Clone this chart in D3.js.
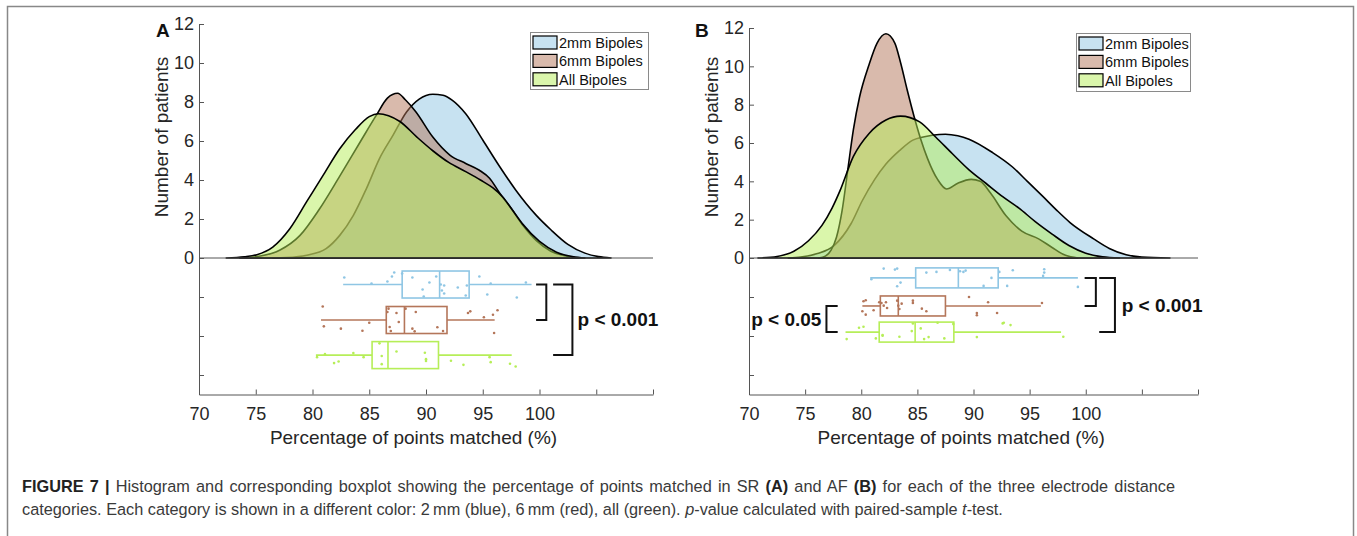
<!DOCTYPE html>
<html>
<head>
<meta charset="utf-8">
<script src="https://cdn.jsdelivr.net/npm/d3@7/dist/d3.min.js"></script>
<style>
  body { margin: 0; background: #fff; }
  text { font-family: "Liberation Sans", Arial, Helvetica, sans-serif; }
</style>
</head>
<body>
<script>
// ---- data ----
const seriesNames = ["2mm Bipoles", "6mm Bipoles", "All Bipoles"];
const xTicks = [70, 75, 80, 85, 90, 95, 100, 105, 110];
const countTicks = [0, 2, 4, 6, 8, 10, 12];

// density curves: [percentage, number of patients]
const densA_2mm = [[76.5,0],[77.7,0.02],[79.5,0.14],[81.2,0.48],[82.4,1.16],[83.6,2.19],[84.75,3.56],[85.9,5.1],[87.1,6.3],[88.3,7.5],[89.4,8.15],[90.6,8.4],[91.5,8.35],[92.3,8.1],[93.5,7.4],[95,6.05],[96.5,4.68],[97.9,3.49],[99.7,2.2],[101,1.45],[102.5,0.7],[104,0.25],[105.2,0.07],[106.3,0]];
const densA_6mm = [[73.6,0],[75.4,0.1],[77.1,0.4],[78.9,1.16],[80.6,2.5],[82.4,4.2],[84.2,5.95],[85.6,7.3],[86.6,8.2],[87.5,8.45],[88.2,8.1],[89.1,7.5],[90.6,6.2],[92.1,5.28],[93.5,4.85],[94.7,4.5],[95.6,4.09],[96.5,3.32],[97.5,2.55],[98.5,1.7],[99.7,0.9],[101,0.35],[102.5,0.08],[103.5,0]];
const densA_all = [[72.4,0],[74,0.06],[75.1,0.17],[76.5,0.56],[78,1.5],[79.5,2.9],[81,4.3],[82.4,5.6],[83.8,6.6],[85,7.25],[85.8,7.4],[86.7,7.3],[87.7,7.0],[89.2,6.2],[90.6,5.5],[92,4.9],[93.5,4.43],[94.8,4.0],[95.9,3.59],[96.8,3.1],[97.5,2.55],[98.5,1.75],[100,0.85],[101.5,0.3],[103,0.06],[104,0]];

const densB_2mm = [[73.5,0],[74.6,0.05],[76.1,0.23],[77.6,0.66],[79.1,1.8],[80.1,3.0],[81.2,4.1],[82.2,4.9],[83.4,5.6],[84.6,6.15],[86.3,6.4],[87.5,6.46],[88.6,6.38],[89.6,6.2],[91.7,5.5],[93.45,4.76],[94.8,4.0],[96.2,3.2],[97.4,2.5],[98.6,1.85],[100.7,1.0],[102.1,0.5],[103.6,0.17],[105,0.05],[107.5,0]];
const densB_6mm = [[76.2,0],[76.8,0.1],[77.3,0.4],[77.8,1.1],[78.3,2.5],[78.8,4.6],[79.3,6.7],[79.85,8.4],[80.7,10.1],[81.4,11.2],[82.2,11.7],[83,11.2],[83.5,10.2],[84.1,8.75],[84.7,7.4],[85.3,6.2],[85.9,5.2],[86.8,4.1],[87.6,3.6],[88.6,3.9],[89.8,4.1],[90.6,4.0],[91.5,3.4],[92.9,2.2],[94.3,1.4],[95.8,1.0],[97,0.55],[98.2,0.14],[99.3,0]];
const densB_all = [[70.8,0],[72.5,0.08],[74,0.35],[75.3,0.9],[76.5,1.7],[77.4,2.6],[78.1,3.5],[79.3,5.3],[80.7,6.5],[82.2,7.2],[83.5,7.4],[85.2,7.1],[86.65,6.3],[88.1,5.45],[89.6,4.6],[91.1,3.9],[92.6,3.2],[94.05,2.6],[95.5,1.9],[97,1.25],[98.5,0.65],[100,0.25],[101.5,0.06],[103,0]];

// boxplots: [lower whisker, q1, median, q3, upper whisker]
const boxA_2mm = [82.7, 87.9, 91.2, 93.8, 99.3];
const boxA_6mm = [80.75, 86.5, 88.1, 91.85, 96.05];
const boxA_all = [80.3, 85.25, 86.65, 91.1, 97.55];
const boxB_2mm = [80.8, 84.85, 88.65, 92.2, 99.3];
const boxB_6mm = [80.1, 81.7, 83.3, 87.5, 96.0];
const boxB_all = [78.6, 81.6, 84.8, 88.25, 97.8];

// patient points: [percentage, jitter (-1..1 of half box height)]
const ptsA_2mm = [[82.8,-0.52],[85.2,-0.07],[86.6,-0.22],[87.0,-0.59],[87.2,-0.89],[87.9,-0.81],[88.8,-0.52],[89.7,0.37],[89.8,0.89],[90.3,-0.15],[90.9,-0.59],[91.3,0],[91.4,0.44],[91.6,0.67],[91.6,0.07],[92.8,0.22],[93.5,0.81],[93.6,0.07],[94.7,-0.59],[95.7,-0.07],[95.4,0.74],[98.0,0.96],[98.8,-0.15]];
const ptsA_6mm = [[80.9,-1.0],[81.0,0.47],[82.5,0.64],[84.4,0.79],[85.0,0.2],[86.6,-0.59],[86.7,-0.84],[86.8,0.52],[86.9,0.81],[87.4,-0.52],[87.6,0.15],[88.2,-0.84],[88.8,0.64],[89.0,0.84],[89.1,-0.59],[91.0,0.54],[91.5,0.81],[93.7,-0.52],[93.9,-0.64],[95.1,-0.2],[95.9,-0.39],[96.3,-0.72],[96.0,0.96]];
const ptsA_all = [[80.4,0.15],[81.1,-0.07],[81.9,0.59],[82.3,0.47],[83.6,-0.15],[84.5,0.15],[85.9,-0.87],[86.1,0.07],[86.1,0.67],[87.4,-0.27],[89.9,-0.17],[90.0,0.44],[90.0,0.3],[92.2,0.42],[93.3,0.72],[95.6,0.15],[95.7,0.52],[97.4,0.64],[97.9,0.84]];
const ptsB_2mm = [[80.9,0.13],[82.0,-0.93],[83.0,-0.83],[83.2,-0.93],[83.2,0.83],[83.5,0.47],[85.8,-0.53],[86.7,-0.6],[87.9,-0.8],[88.8,-0.67],[89.1,-0.6],[89.3,-0.73],[90.9,0.8],[91.6,0],[92.3,-0.6],[93.0,0.8],[93.5,-0.77],[96.3,-0.87],[96.3,-0.53],[96.2,-0.2],[99.3,0.9]];
const ptsB_6mm = [[80.2,-0.47],[80.4,-0.57],[80.1,0.53],[80.4,0.87],[81.1,0.43],[81.6,-0.37],[81.8,-0.3],[82.0,-0.03],[82.2,-0.37],[82.3,0.2],[83.2,-0.53],[83.3,-0.03],[83.4,0.3],[83.6,-0.23],[84.6,-0.53],[84.6,-0.3],[85.4,0.27],[85.8,0.53],[89.6,-0.9],[90.3,0.7],[90.3,0.93],[91.3,-0.37],[92.1,0.7],[96.1,-0.3]];
const ptsB_all = [[78.7,0.7],[79.8,-0.43],[80.2,-0.53],[81.3,0.63],[81.9,0.37],[81.9,0.3],[83.4,0.47],[84.6,-0.87],[84.5,-0.1],[85.3,-0.37],[85.6,0.7],[86.0,0.5],[86.8,-0.93],[87.4,0.63],[88.2,-0.8],[90.3,0.5],[92.6,-0.87],[92.7,-0.93],[93.3,-0.7],[98.0,0.47]];

// ---- styles ----
const colors = ["#8fc6e4", "#b4765a", "#b6ee58"];
const fillOpacity = 0.5;
const axisColor = "#555";
const textColor = "#262626";

const W = 1357, H = 536;
const svg = d3.select("body").append("svg").attr("width", W).attr("height", H);

// outer frame of the figure
svg.append("rect")
  .attr("x", 7.5).attr("y", 6.5).attr("width", 1346).attr("height", 560)
  .attr("fill", "none").attr("stroke", "#888").attr("stroke-width", 1.5);

const panels = [
  { letter: "A", left: 199, right: 653, top: 24,
    dens: [densA_2mm, densA_6mm, densA_all], boxes: [boxA_2mm, boxA_6mm, boxA_all],
    pts: [ptsA_2mm, ptsA_6mm, ptsA_all], centers: [0.68, 1.59, 2.49], half: 13.5,
    legend: { x: 530, y: 32, w: 118, h: 57 },
    brackets: [{ a: 0, b: 1, xArm: 99.7, xBar: 100.6 }, { a: 0, b: 2, xArm: 101.2, xBar: 102.9, label: "p < 0.001", lx: 103.35, anchor: "start" }] },
  { letter: "B", left: 749, right: 1198, top: 28,
    dens: [densB_2mm, densB_6mm, densB_all], boxes: [boxB_2mm, boxB_6mm, boxB_all],
    pts: [ptsB_2mm, ptsB_6mm, ptsB_all], centers: [0.51, 1.23, 1.9], half: 10,
    legend: { x: 1076, y: 33, w: 114, h: 58 },
    brackets: [{ a: 0, b: 1, xArm: 99.9, xBar: 100.9 }, { a: 0, b: 2, xArm: 101.2, xBar: 102.6, label: "p < 0.001", lx: 103.2, anchor: "start" },
               { a: 1, b: 2, xArm: 77.9, xBar: 76.9, label: "p < 0.05", lx: 76.45, anchor: "end" }] }
];

function styleAxis(g, size) {
  g.select(".domain").attr("stroke", axisColor).attr("stroke-width", 1);
  g.selectAll(".tick line").attr("stroke", axisColor);
  g.selectAll(".tick text").attr("fill", textColor).style("font-size", size + "px")
    .style("font-family", '"Liberation Sans", Arial, sans-serif');
}

panels.forEach(p => {
  const g = svg.append("g");
  const x = d3.scaleLinear().domain([70, 110]).range([p.left, p.right]);
  const yTop = d3.scaleLinear().domain([0, 12]).range([258, p.top]);
  const yLow = d3.scaleLinear().domain([0, 3.5]).range([258, 394.5]);

  // density patches, drawn in order so later ones cover earlier outlines
  const area = d3.area().x(d => x(d[0])).y0(yTop(0)).y1(d => yTop(d[1])).curve(d3.curveMonotoneX);
  p.dens.forEach((d, i) => {
    g.append("path").datum(d).attr("d", area)
      .attr("fill", colors[i]).attr("fill-opacity", fillOpacity)
      .attr("stroke", "#000").attr("stroke-width", 1.6).attr("stroke-linejoin", "round");
  });

  // axes
  g.append("g").attr("transform", `translate(${p.left},0)`)
    .call(d3.axisLeft(yTop).tickValues(countTicks).tickSizeInner(-5).tickSizeOuter(0).tickPadding(5))
    .call(a => styleAxis(a, 18));
  g.append("g").attr("transform", `translate(${p.left},0)`)
    .call(d3.axisLeft(yLow).tickValues([1, 2, 3]).tickSizeInner(-5).tickSizeOuter(0).tickFormat(""))
    .call(a => styleAxis(a, 18));
  g.append("line").attr("x1", p.left).attr("x2", p.right).attr("y1", 258).attr("y2", 258)
    .attr("stroke", axisColor).attr("stroke-width", 1);
  g.append("g").attr("transform", `translate(0,${yLow(3.5)})`)
    .call(d3.axisBottom(x).tickValues(xTicks).tickSizeInner(-5).tickSizeOuter(0).tickPadding(13)
      .tickFormat(d => d <= 100 ? d : ""))
    .call(a => styleAxis(a, 18));

  // axis titles and panel letter
  g.append("text").attr("x", x(88.9)).attr("y", 444).attr("text-anchor", "middle")
    .attr("fill", textColor).style("font-size", "19px").text("Percentage of points matched (%)");
  g.append("text").attr("transform", `translate(${p.left - 31},137) rotate(-90)`).attr("text-anchor", "middle")
    .attr("fill", textColor).style("font-size", "19px").text("Number of patients");
  g.append("text").attr("x", p.left - (p.letter === "A" ? 43 : 54)).attr("y", 37)
    .attr("fill", "#111").style("font-size", "19px").style("font-weight", "bold").text(p.letter);

  // boxplots with points
  p.boxes.forEach((b, i) => {
    const cy = yLow(p.centers[i]);
    const c = colors[i];
    const bg = g.append("g").attr("stroke", c).attr("stroke-width", 1.6).attr("fill", "none");
    bg.append("line").attr("x1", x(b[0])).attr("x2", x(b[1])).attr("y1", cy).attr("y2", cy);
    bg.append("line").attr("x1", x(b[3])).attr("x2", x(b[4])).attr("y1", cy).attr("y2", cy);
    bg.append("rect").attr("x", x(b[1])).attr("y", cy - p.half)
      .attr("width", x(b[3]) - x(b[1])).attr("height", 2 * p.half);
    bg.append("line").attr("x1", x(b[2])).attr("x2", x(b[2])).attr("y1", cy - p.half).attr("y2", cy + p.half);
    g.selectAll(null).data(p.pts[i]).enter().append("circle")
      .attr("cx", d => x(d[0])).attr("cy", d => cy + d[1] * p.half).attr("r", 1.3)
      .attr("fill", c);
  });

  // significance brackets
  p.brackets.forEach(br => {
    const y1 = yLow(p.centers[br.a]), y2 = yLow(p.centers[br.b]);
    g.append("path")
      .attr("d", `M${x(br.xArm)},${y1}H${x(br.xBar)}V${y2}H${x(br.xArm)}`)
      .attr("fill", "none").attr("stroke", "#111").attr("stroke-width", 2);
    if (br.label) {
      g.append("text").attr("x", x(br.lx)).attr("y", (y1 + y2) / 2).attr("dy", "0.35em")
        .attr("text-anchor", br.anchor).attr("fill", "#111")
        .style("font-size", "19px").style("font-weight", "bold").text(br.label);
    }
  });

  // legend
  const L = p.legend;
  const lg = g.append("g");
  lg.append("rect").attr("x", L.x + 0.5).attr("y", L.y + 0.5).attr("width", L.w).attr("height", L.h)
    .attr("fill", "#fff").attr("stroke", "#8a8a8a").attr("stroke-width", 1);
  seriesNames.forEach((name, i) => {
    const cy = L.y + 10.5 + i * 18.4;
    lg.append("rect").attr("x", L.x + 3).attr("y", cy - 6.5).attr("width", 24).attr("height", 13)
      .attr("fill", colors[i]).attr("fill-opacity", fillOpacity).attr("stroke", "#000").attr("stroke-width", 1.2);
    lg.append("text").attr("x", L.x + 29).attr("y", cy).attr("dy", "0.36em")
      .attr("fill", "#111").style("font-size", "14.5px").text(name);
  });
});

// caption (first line justified to the full text width)
const cap = svg.append("g").attr("fill", "#3a3a3a").style("font-size", "16.3px");
const line1 = cap.append("text").attr("x", 22).attr("y", 492);
line1.append("tspan").style("font-weight", "bold").attr("fill", "#222").text("FIGURE 7 |");
line1.append("tspan").text(" Histogram and corresponding boxplot showing the percentage of points matched in SR ");
line1.append("tspan").style("font-weight", "bold").attr("fill", "#222").text("(A)");
line1.append("tspan").text(" and AF ");
line1.append("tspan").style("font-weight", "bold").attr("fill", "#222").text("(B)");
line1.append("tspan").text(" for each of the three electrode distance");
const natural = line1.node().getComputedTextLength();
const gaps = line1.text().split(" ").length - 1;
line1.attr("word-spacing", Math.max(0, (1153 - natural) / gaps));

const line2 = cap.append("text").attr("x", 22).attr("y", 515);
line2.append("tspan").text("categories. Each category is shown in a different color: 2\u2009mm (blue), 6\u2009mm (red), all (green). ");
line2.append("tspan").style("font-style", "italic").text("p");
line2.append("tspan").text("-value calculated with paired-sample ");
line2.append("tspan").style("font-style", "italic").text("t");
line2.append("tspan").text("-test.");
</script>
</body>
</html>
